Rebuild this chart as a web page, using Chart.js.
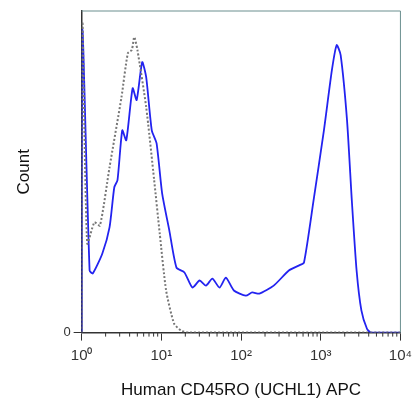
<!DOCTYPE html>
<html>
<head>
<script src="https://cdn.jsdelivr.net/npm/chart.js@4"></script>
<style>
  body { margin: 0; background: #fff; }
  #wrap { width: 418px; height: 407px; }
</style>
</head>
<body>
<div id="wrap"><canvas id="c"></canvas></div>
<script>
// log10 of intensity, and counts (% of max)
const blueX = [0, 0.01, 0.10, 0.14, 0.26, 0.35, 0.41, 0.45, 0.51, 0.56, 0.64, 0.69, 0.76, 0.81, 0.88, 0.94, 1.01, 1.10, 1.19, 1.29, 1.39, 1.48, 1.56, 1.64, 1.73, 1.81, 1.91, 2.06, 2.14, 2.23, 2.41, 2.60, 2.73, 2.79, 2.91, 3.04, 3.14, 3.20, 3.25, 3.33, 3.39, 3.45, 3.51, 3.58, 3.63, 4.0];
const blueY = [0, 94.1, 19.3, 18.4, 24.6, 32.7, 45.2, 47.4, 62.9, 59.8, 76.0, 72.3, 84.1, 79.4, 62.9, 58.9, 43.3, 31.8, 20.2, 18.7, 14.0, 16.2, 14.6, 16.8, 14.0, 17.1, 13.1, 11.5, 12.5, 12.1, 14.6, 19.3, 20.9, 21.8, 41.1, 62.9, 81.6, 89.4, 86.3, 66.0, 41.1, 19.3, 6.9, 1.2, 0, 0];
const grayX = [0, 0.01, 0.07, 0.16, 0.23, 0.35, 0.50, 0.58, 0.63, 0.66, 0.70, 0.81, 0.91, 0.98, 1.06, 1.16, 1.25, 1.35, 4.0];
const grayY = [0, 96.6, 27.7, 34.3, 33.3, 51.4, 73.2, 86.9, 87.9, 91.9, 87.9, 70.1, 47.4, 30.8, 13.1, 2.8, 0.6, 0, 0];
const tickLabels = ['10⁰', '10¹', '10²', '10³', '10⁴'];

const pts = (xs, ys) => xs.map((x, i) => ({x: x, y: ys[i]}));

const minorTicks = {
  id: 'minorTicks',
  afterDraw(chart) {
    const ctx = chart.ctx, xs = chart.scales.x, a = chart.chartArea;
    ctx.save();
    ctx.strokeStyle = '#333';
    ctx.lineWidth = 1;
    for (let d = 0; d < 4; d++) {
      for (let k = 2; k < 10; k++) {
        const px = xs.getPixelForValue(d + Math.log10(k));
        ctx.beginPath();
        ctx.moveTo(px, a.bottom);
        ctx.lineTo(px, a.bottom + 4);
        ctx.stroke();
      }
    }
    ctx.strokeStyle = '#6a8f8f';
    ctx.beginPath();
    ctx.moveTo(a.left, a.top);
    ctx.lineTo(a.right, a.top);
    ctx.lineTo(a.right, a.bottom);
    ctx.stroke();
    ctx.restore();
  }
};

new Chart(document.getElementById('c'), {
  type: 'line',
  data: {
    datasets: [{
      data: pts(grayX, grayY),
      borderColor: '#777',
      borderWidth: 2,
      borderDash: [2, 2],
      pointRadius: 0,
      tension: 0.2
    }, {
      data: pts(blueX, blueY),
      borderColor: '#2323f0',
      borderWidth: 1.8,
      pointRadius: 0,
      tension: 0.2
    }]
  },
  plugins: [minorTicks],
  options: {
    responsive: true,
    maintainAspectRatio: false,
    animation: false,
    layout: {padding: {top: 11, right: 16, left: 10, bottom: 2}},
    plugins: {legend: {display: false}, tooltip: {enabled: false}},
    scales: {
      x: {
        type: 'linear', min: 0, max: 4,
        ticks: {stepSize: 1, padding: 6, color: '#333', font: {family: 'Liberation Sans', size: 15},
          callback: v => tickLabels[v]},
        grid: {drawOnChartArea: false, tickLength: 8, color: '#333'},
        border: {color: '#333', width: 1.5},
        title: {display: true, text: 'Human CD45RO (UCHL1) APC', color: '#111',
          font: {family: 'Liberation Sans', size: 17}, padding: {top: 10}}
      },
      y: {
        min: 0, max: 100,
        afterBuildTicks: s => { s.ticks = [{value: 0}]; },
        ticks: {color: '#333', font: {family: 'Liberation Sans', size: 13}},
        grid: {drawOnChartArea: false, tickLength: 8, color: '#333'},
        border: {color: '#333', width: 1.5},
        title: {display: true, text: 'Count', color: '#111',
          font: {family: 'Liberation Sans', size: 17}, padding: {bottom: 26}}
      }
    }
  }
});
</script>
</body>
</html>
